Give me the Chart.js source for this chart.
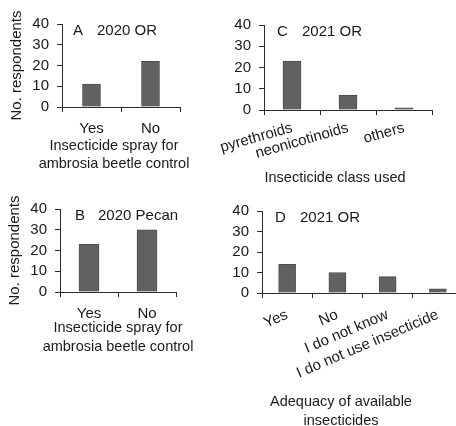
<!DOCTYPE html>
<html>
<head>
<meta charset="utf-8">
<script src="https://cdn.jsdelivr.net/npm/chart.js@4.4.0/dist/chart.umd.min.js"></script>
<style>
  html, body { margin: 0; padding: 0; background: #fff; }
  #wrap { position: relative; width: 456px; height: 426px; overflow: hidden; }
  .panel { position: absolute; }
</style>
</head>
<body>
<div id="wrap">
  <div class="panel" id="pA"><canvas id="chartA"></canvas></div>
  <div class="panel" id="pB"><canvas id="chartB"></canvas></div>
  <div class="panel" id="pC"><canvas id="chartC"></canvas></div>
  <div class="panel" id="pD"><canvas id="chartD"></canvas></div>
</div>
<script>
// data
var catsA = ['Yes', 'No'];
var valsA = [11, 22];
var catsB = ['Yes', 'No'];
var valsB = [23, 30];
var catsC = ['pyrethroids', 'neonicotinoids', 'others'];
var valsC = [23, 7, 1];
var catsD = ['Yes', 'No', 'I do not know', 'I do not use insecticide'];
var valsD = [14, 10, 8, 2];
var yTicks = [0, 10, 20, 30, 40];

var FONT = '"Liberation Sans", Arial, sans-serif';
var TXT = '#1a1a1a';
var AXIS = '#2b2b2b';

// panel tag ("A   2020 OR") inside the plot + x axis title lines (not squeezed to plot width)
var panelText = {
    id: 'panelText',
    afterDraw: function (chart, args, opts) {
        var ctx = chart.ctx, a = chart.chartArea;
        ctx.save();
        ctx.font = '15px ' + FONT;
        ctx.fillStyle = TXT;
        ctx.textBaseline = 'middle';
        ctx.fillText(opts.letter, a.left + opts.dx1, a.top + 7);
        ctx.fillText(opts.text, a.left + opts.dx2, a.top + 7);
        ctx.font = '14.5px ' + FONT;
        ctx.textAlign = 'center';
        opts.xTitle.forEach(function (line, i) {
            ctx.fillText(line, opts.tx - opts.boxX, opts.ty[i] - opts.boxY);
        });
        ctx.restore();
    }
};

function makePanel(id, box, plot, cats, vals, opt) {
    var holder = document.getElementById('p' + id);
    holder.style.left = box.x + 'px';
    holder.style.top = box.y + 'px';
    holder.style.width = box.w + 'px';
    holder.style.height = box.h + 'px';

    opt.label.boxX = box.x;
    opt.label.boxY = box.y;

    return new Chart(document.getElementById('chart' + id), {
        type: 'bar',
        plugins: [panelText],
        data: {
            labels: cats,
            datasets: [{
                data: vals,
                backgroundColor: '#616161',
                borderColor: '#4d4d4d',
                borderWidth: 1,
                barThickness: opt.bar
            }]
        },
        options: {
            responsive: true,
            maintainAspectRatio: false,
            animation: false,
            layout: {
                padding: { top: plot.t - box.y, right: box.x + box.w - plot.r, left: 0, bottom: 0 }
            },
            plugins: {
                legend: { display: false },
                tooltip: { enabled: false },
                panelText: opt.label
            },
            scales: {
                x: {
                    grid: { display: true, drawOnChartArea: false, drawTicks: true, tickLength: 5, color: AXIS, offset: true },
                    border: { display: true, color: AXIS, width: 1 },
                    ticks: {
                        color: TXT, font: { family: FONT, size: 15 }, padding: opt.tickPad,
                        autoSkip: false, minRotation: opt.rot, maxRotation: opt.rot
                    },
                    afterFit: function (s) { s.height = box.y + box.h - plot.b; }
                },
                y: {
                    min: 0,
                    max: 40,
                    afterBuildTicks: function (s) { s.ticks = yTicks.map(function (v) { return { value: v }; }); },
                    grid: { display: true, drawOnChartArea: false, drawTicks: true, tickLength: 5, color: AXIS },
                    border: { display: true, color: AXIS, width: 1 },
                    ticks: { color: TXT, font: { family: FONT, size: 15 }, padding: 8, autoSkip: false },
                    title: {
                        display: !!opt.yTitle, text: opt.yTitle || '', color: TXT,
                        font: { family: FONT, size: 15 }, padding: { top: opt.yTitlePad || 0, bottom: 0 }
                    },
                    afterFit: function (s) { s.width = plot.l - box.x; }
                }
            }
        }
    });
}

makePanel('A', { x: 0, y: 0, w: 200, h: 180 }, { l: 62, t: 24, r: 180, b: 107 }, catsA, valsA, {
    bar: 18, rot: 0, tickPad: 8, yTitle: 'No. respondents', yTitlePad: 8,
    label: { letter: 'A', text: '2020 OR', dx1: 11, dx2: 35,
             xTitle: ['Insecticide spray for', 'ambrosia beetle control'], tx: 114, ty: [146, 164] }
});
makePanel('B', { x: 0, y: 185, w: 200, h: 180 }, { l: 60, t: 209, r: 176, b: 292 }, catsB, valsB, {
    bar: 20, rot: 0, tickPad: 8, yTitle: 'No. respondents', yTitlePad: 6,
    label: { letter: 'B', text: '2020 Pecan', dx1: 15, dx2: 38,
             xTitle: ['Insecticide spray for', 'ambrosia beetle control'], tx: 118, ty: [328, 347] }
});
makePanel('C', { x: 200, y: 0, w: 256, h: 190 }, { l: 264, t: 25, r: 432, b: 110 }, catsC, valsC, {
    bar: 18, rot: 16, tickPad: 4,
    label: { letter: 'C', text: '2021 OR', dx1: 13, dx2: 38,
             xTitle: ['Insecticide class used'], tx: 335, ty: [178] }
});
makePanel('D', { x: 200, y: 190, w: 270, h: 236 }, { l: 262, t: 211, r: 463, b: 293 }, catsD, valsD, {
    bar: 17, rot: 23, tickPad: 8,
    label: { letter: 'D', text: '2021 OR', dx1: 13, dx2: 38,
             xTitle: ['Adequacy of available', 'insecticides'], tx: 341, ty: [402, 421] }
});
</script>
</body>
</html>
